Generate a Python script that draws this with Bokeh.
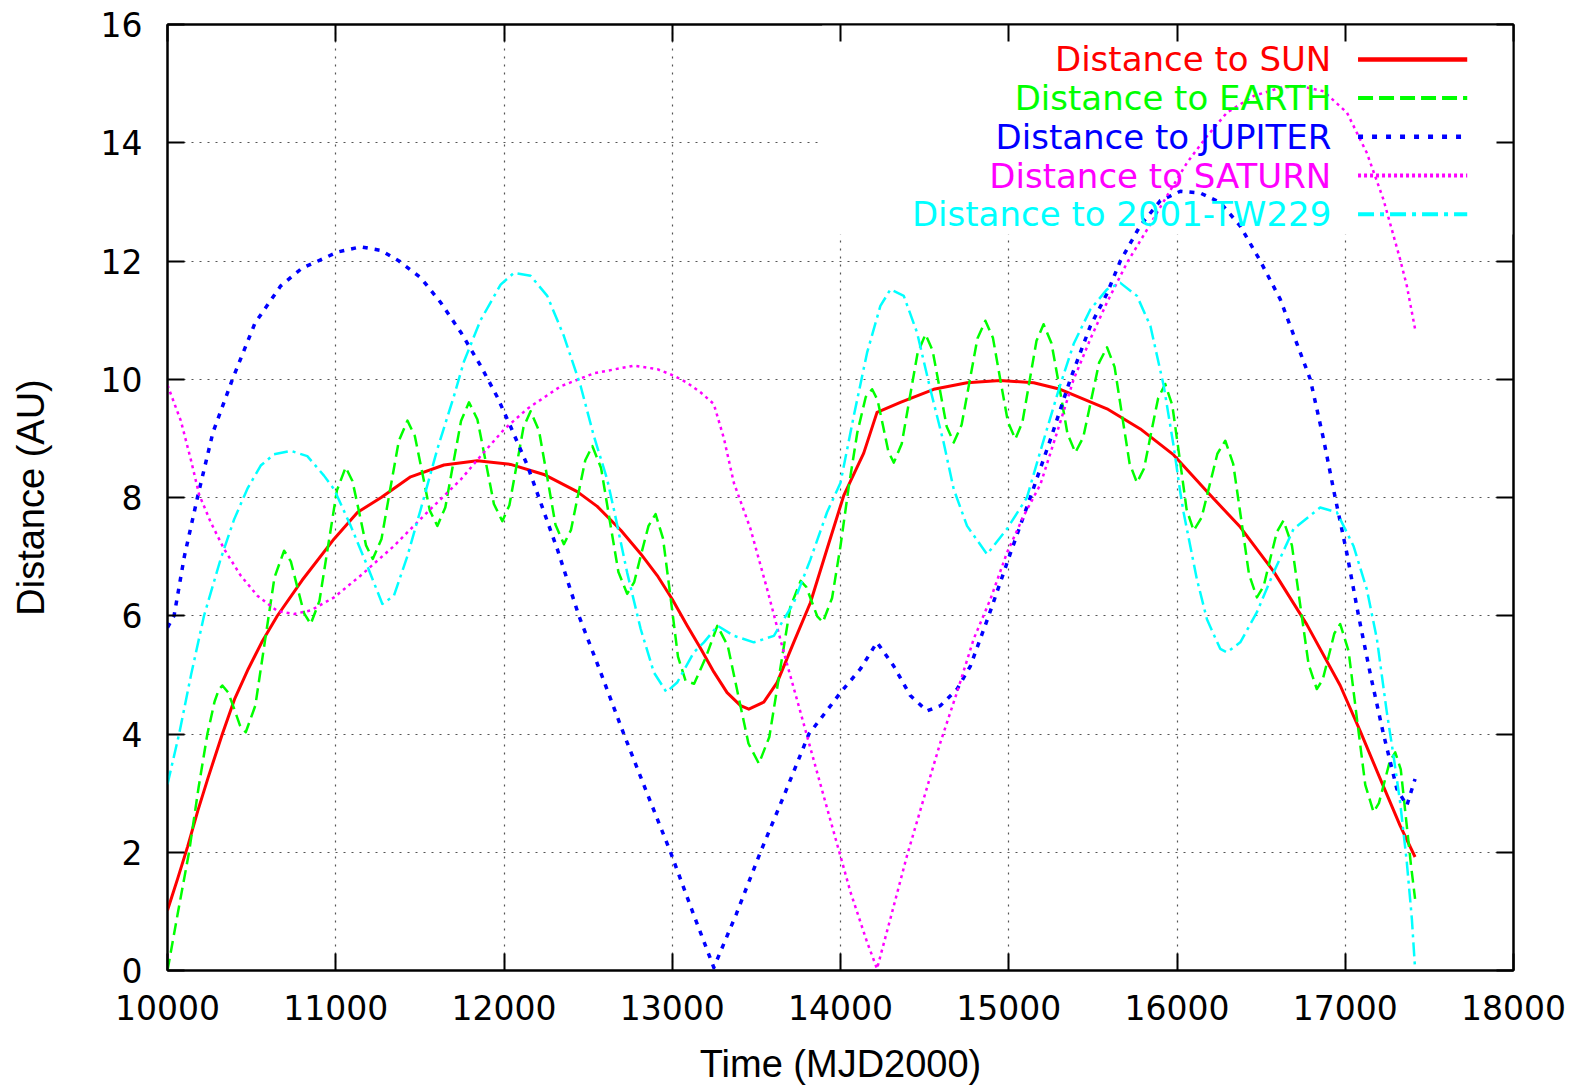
from bokeh.plotting import figure
from bokeh.models import Range1d, LinearAxis, FixedTicker, BoxAnnotation, ColumnDataSource, BasicTickFormatter
from bokeh.core.properties import value
from bokeh.embed import file_html
from bokeh.resources import INLINE

# ---------------- data ----------------
x_ticks = [10000, 11000, 12000, 13000, 14000, 15000, 16000, 17000, 18000]
y_ticks = [0, 2, 4, 6, 8, 10, 12, 14, 16]

sun_t = [10000, 10060, 10120, 10180, 10240, 10326, 10400, 10480, 10560, 10653, 10800, 10990, 11130,
         11270, 11445, 11643, 11841, 12039, 12237, 12435, 12554, 12693, 12812, 12911, 13000, 13089,
         13168, 13247, 13326, 13406, 13455, 13544, 13623, 13722, 13821, 13920, 14019, 14138, 14217,
         14356, 14554, 14752, 14950, 15148, 15306, 15584, 15782, 15980, 16178, 16376, 16574, 16772,
         16970, 17089, 17208, 17326, 17415]
sun_d = [1.02, 1.55, 2.1, 2.7, 3.25, 4.0, 4.6, 5.1, 5.55, 6.0, 6.6, 7.3, 7.75,
         8.0, 8.35, 8.55, 8.62, 8.56, 8.39, 8.1, 7.85, 7.45, 7.05, 6.68, 6.28, 5.83,
         5.45, 5.05, 4.7, 4.48, 4.42, 4.54, 4.87, 5.55, 6.22, 7.13, 8.03, 8.75, 9.44,
         9.61, 9.83, 9.94, 9.98, 9.94, 9.83, 9.5, 9.16, 8.72, 8.1, 7.5, 6.75, 5.85,
         4.82, 4.05, 3.24, 2.45, 1.92]

earth_t = [10000, 10060, 10128, 10185, 10237, 10280, 10305, 10326, 10361, 10396, 10430, 10465,
           10522, 10579, 10636, 10693, 10733, 10772, 10812, 10851, 10903, 10955, 11007, 11059,
           11099, 11140, 11180, 11220, 11272, 11323, 11375, 11426, 11470, 11515, 11559, 11604,
           11651, 11698, 11745, 11792, 11842, 11891, 11940, 11990, 12032, 12074, 12116, 12158,
           12208, 12257, 12306, 12356, 12398, 12440, 12483, 12525, 12577, 12628, 12680, 12732,
           12774, 12816, 12859, 12901, 12945, 12990, 13034, 13079, 13130, 13200, 13268, 13330,
           13391, 13453, 13515, 13577, 13639, 13701, 13763, 13796, 13829, 13862, 13895, 13950,
           14000, 14050, 14100, 14150, 14188, 14220, 14253, 14285, 14317, 14364, 14411, 14458,
           14505, 14547, 14589, 14631, 14673, 14720, 14767, 14814, 14861, 14906, 14950, 14995,
           15039, 15081, 15123, 15165, 15207, 15254, 15302, 15349, 15396, 15443, 15490, 15537,
           15584, 15629, 15673, 15718, 15762, 15804, 15846, 15888, 15930, 15972, 16015, 16057,
           16099, 16146, 16193, 16240, 16287, 16334, 16381, 16428, 16475, 16515, 16554, 16594,
           16633, 16683, 16732, 16782, 16831, 16866, 16901, 16935, 16970, 17020, 17069, 17119,
           17168, 17200, 17233, 17265, 17297, 17330, 17360, 17390, 17415]
earth_d = [0.0, 0.95, 2.0, 3.1, 4.0, 4.55, 4.75, 4.82, 4.7, 4.43, 4.15, 4.03,
           4.48, 5.57, 6.65, 7.1, 6.92, 6.48, 6.04, 5.86, 6.25, 7.19, 8.12, 8.51,
           8.28, 7.74, 7.19, 6.96, 7.3, 8.13, 8.96, 9.3, 9.04, 8.41, 7.78, 7.52,
           7.83, 8.57, 9.3, 9.61, 9.32, 8.61, 7.89, 7.6, 7.87, 8.53, 9.19, 9.46,
           9.13, 8.34, 7.54, 7.21, 7.45, 8.04, 8.63, 8.87, 8.5, 7.62, 6.74, 6.37,
           6.57, 7.05, 7.52, 7.72, 7.31, 6.31, 5.31, 4.9, 4.85, 5.3, 5.83, 5.49,
           4.67, 3.84, 3.5, 3.95, 5.05, 6.14, 6.59, 6.49, 6.24, 5.99, 5.89, 6.3,
           7.18, 8.2, 9.1, 9.7, 9.83, 9.65, 9.21, 8.77, 8.59, 8.91, 9.68, 10.44,
           10.76, 10.49, 9.85, 9.2, 8.93, 9.23, 9.96, 10.69, 10.99, 10.7, 9.99, 9.28,
           8.99, 9.27, 9.96, 10.65, 10.93, 10.61, 9.85, 9.08, 8.76, 9.02, 9.65, 10.28,
           10.54, 10.21, 9.4, 8.58, 8.25, 8.49, 9.09, 9.68, 9.92, 9.56, 8.68, 7.8,
           7.44, 7.66, 8.2, 8.74, 8.96, 8.57, 7.64, 6.7, 6.31, 6.5, 6.96, 7.42,
           7.61, 7.19, 6.19, 5.18, 4.76, 4.92, 5.31, 5.7, 5.86, 5.4, 4.27, 3.14,
           2.68, 2.83, 3.19, 3.54, 3.69, 3.4, 2.6, 1.8, 1.21]

jupiter_t = [10000, 10039, 10100, 10178, 10270, 10386, 10520, 10673, 10800, 10910, 11009, 11148, 11267,
             11376, 11504, 11623, 11742, 11861, 11960, 12039, 12138, 12207, 12320, 12445, 12580, 12712,
             12850, 12990, 13120, 13247, 13380, 13524, 13670, 13812, 13920, 14000, 14118, 14217, 14316,
             14415, 14514, 14594, 14693, 14772, 14881, 15009, 15128, 15250, 15366, 15485, 15584, 15663,
             15782, 15901, 16020, 16138, 16257, 16376, 16495, 16614, 16713, 16792, 16870, 16940, 17010,
             17079, 17150, 17227, 17307, 17366, 17415]
jupiter_d = [5.8, 6.0, 7.0, 8.0, 9.1, 10.0, 10.95, 11.58, 11.88, 12.02, 12.15, 12.24, 12.18,
             12.0, 11.72, 11.3, 10.8, 10.23, 9.7, 9.2, 8.55, 8.0, 7.1, 6.0, 5.0, 4.0,
             3.0, 2.0, 1.0, 0.05, 0.95, 2.0, 3.0, 4.0, 4.4, 4.7, 5.1, 5.55, 5.15,
             4.65, 4.39, 4.48, 4.76, 5.15, 6.0, 7.05, 8.0, 9.0, 10.0, 10.9, 11.45, 12.0,
             12.6, 13.02, 13.18, 13.15, 12.99, 12.59, 12.0, 11.35, 10.6, 10.0, 9.0, 8.0, 7.05,
             6.0, 5.0, 4.0, 3.07, 2.79, 3.24]

saturn_t = [10000, 10079, 10138, 10188, 10257, 10336, 10435, 10534, 10653, 10752, 10851, 10990, 11148,
            11346, 11544, 11742, 11861, 12000, 12138, 12336, 12534, 12772, 12911, 13010, 13089, 13168,
            13247, 13307, 13366, 13465, 13564, 13663, 13762, 13861, 13960, 14059, 14158, 14217, 14296,
            14395, 14494, 14594, 14693, 14792, 14891, 14990, 15089, 15188, 15287, 15386, 15485, 15584,
            15703, 15822, 15940, 16059, 16178, 16297, 16455, 16614, 16733, 16871, 17010, 17128, 17227,
            17326, 17366, 17415]
saturn_d = [9.9, 9.3, 8.65, 8.05, 7.58, 7.13, 6.68, 6.34, 6.08, 6.03, 6.09, 6.31, 6.68,
            7.18, 7.75, 8.3, 8.7, 9.15, 9.5, 9.88, 10.1, 10.23, 10.17, 10.06, 9.94, 9.78,
            9.58, 9.0, 8.25, 7.47, 6.45, 5.38, 4.37, 3.35, 2.34, 1.33, 0.48, 0.03, 0.87,
            1.94, 2.9, 3.86, 4.71, 5.61, 6.28, 7.07, 7.69, 8.22, 9.1, 10.0, 10.68, 11.3,
            11.97, 12.53, 13.1, 13.66, 14.11, 14.51, 14.79, 14.93, 14.96, 14.87, 14.51, 13.83, 13.04,
            12.03, 11.58, 10.85]

tw229_t = [10000, 10069, 10140, 10217, 10316, 10396, 10475, 10554, 10633, 10732, 10831, 10930, 10990,
           11089, 11188, 11277, 11346, 11426, 11505, 11604, 11703, 11762, 11861, 11980, 12059, 12158,
           12257, 12356, 12455, 12534, 12613, 12653, 12732, 12812, 12891, 12965, 13029, 13128, 13188,
           13270, 13367, 13485, 13604, 13722, 13821, 13920, 14000, 14079, 14158, 14237, 14297, 14376,
           14455, 14534, 14613, 14673, 14752, 14871, 14990, 15108, 15200, 15300, 15386, 15485, 15584,
           15663, 15762, 15842, 15921, 15980, 16020, 16039, 16118, 16178, 16257, 16297, 16376, 16475,
           16574, 16693, 16851, 16950, 17049, 17128, 17188, 17247, 17287, 17326, 17366, 17396, 17415]
tw229_d = [3.15, 4.0, 5.0, 6.0, 6.96, 7.63, 8.15, 8.54, 8.73, 8.79, 8.7, 8.37, 8.14,
           7.52, 6.84, 6.2, 6.34, 7.01, 7.8, 8.82, 9.72, 10.3, 11.0, 11.6, 11.8, 11.75,
           11.41, 10.73, 9.89, 9.04, 8.31, 7.8, 6.73, 5.78, 5.04, 4.71, 4.87, 5.38, 5.55,
           5.83, 5.66, 5.55, 5.66, 6.22, 6.95, 7.75, 8.25, 9.38, 10.45, 11.24, 11.52, 11.41,
           10.79, 9.83, 8.93, 8.14, 7.52, 7.04, 7.47, 8.0, 8.9, 9.85, 10.6, 11.18, 11.52,
           11.63, 11.41, 10.9, 9.89, 8.87, 8.08, 7.75, 6.62, 5.94, 5.44, 5.38, 5.55, 6.06,
           6.73, 7.47, 7.83, 7.75, 7.18, 6.45, 5.61, 4.37, 3.63, 2.85, 1.83, 0.87, 0.03]

names = ["Distance to SUN", "Distance to EARTH", "Distance to JUPITER",
         "Distance to SATURN", "Distance to 2001-TW229"]
colors = ["#ff0000", "#00ff00", "#0000ff", "#ff00ff", "#00ffff"]

# ---------------- styles / layout ----------------
line_dash = ["solid", "12 6", "5 7", "3 4", "14 5 3 5"]
line_w = [3, 2.5, 3.5, 2.5, 2.5]
key_dash = ["solid", "15 6", "5 9", "3 3", "16 6 4 6"]
key_w = [4.5, 4, 4.5, 4, 4]
KEY = dict(text_x=16917, x0=17076, x1=17725, y_top=15.41, dy=0.655,
           blank_left=13891, blank_bottom=12.45)

p = figure(width=1581, height=1087, output_backend="svg", toolbar_location=None,
           x_range=Range1d(10000, 18000), y_range=Range1d(0, 16),
           min_border_left=167, min_border_right=68, min_border_top=24, min_border_bottom=115,
           background_fill_color="white", border_fill_color="white")

p.outline_line_color = "#000000"
p.outline_line_width = 2

for ax in (p.xaxis[0], p.yaxis[0]):
    ax.axis_line_width = 2
    ax.axis_line_color = "#000000"
    ax.major_tick_in = 17
    ax.major_tick_out = 0
    ax.major_tick_line_width = 2
    ax.minor_tick_line_color = None
    ax.major_label_text_font = "DejaVu Sans"
    ax.major_label_text_font_size = "33px"
    ax.major_label_text_color = "#000000"
    ax.axis_label_text_font = "Liberation Sans"
    ax.axis_label_text_font_size = "38px"
    ax.axis_label_text_font_style = "normal"
    ax.axis_label_text_color = "#000000"
    ax.formatter = BasicTickFormatter(use_scientific=False)

p.xaxis[0].ticker = FixedTicker(ticks=x_ticks)
p.yaxis[0].ticker = FixedTicker(ticks=y_ticks)
p.xaxis[0].axis_label = "Time (MJD2000)"
p.yaxis[0].axis_label = "Distance (AU)"
p.xaxis[0].major_label_standoff = 24
p.xaxis[0].axis_label_standoff = 20
p.yaxis[0].major_label_standoff = 25
p.yaxis[0].axis_label_standoff = 46

# mirrored tick axes (gnuplot style)
for loc, tk in (("above", x_ticks), ("right", y_ticks)):
    ax = LinearAxis(ticker=FixedTicker(ticks=tk), major_tick_in=17, major_tick_out=0,
                    major_tick_line_width=2, minor_tick_line_color=None,
                    axis_line_width=2, major_label_text_color=None,
                    major_label_text_font_size="1px", major_label_standoff=0)
    p.add_layout(ax, loc)

for g, tk in ((p.xgrid[0], x_ticks), (p.ygrid[0], y_ticks)):
    g.ticker = FixedTicker(ticks=tk)
    g.grid_line_color = "#555555"
    g.grid_line_width = 1.2
    g.grid_line_dash = "2 6"

# gnuplot blanks the grid behind the key
p.add_layout(BoxAnnotation(left=KEY["blank_left"], right=18000, bottom=KEY["blank_bottom"], top=16,
                           fill_color="white", fill_alpha=1.0, line_color=None, level="underlay"))

series = [(sun_t, sun_d), (earth_t, earth_d), (jupiter_t, jupiter_d),
          (saturn_t, saturn_d), (tw229_t, tw229_d)]
for i, (t, d) in enumerate(series):
    p.line(t, d, line_color=colors[i], line_width=line_w[i], line_dash=line_dash[i],
           line_join="round")

# key (text on the left, sample on the right, as gnuplot draws it)
key_y = [KEY["y_top"] - i * KEY["dy"] for i in range(len(names))]
src = ColumnDataSource(dict(x=[KEY["text_x"]] * len(names), y=key_y, text=names, c=colors))
p.text(x="x", y="y", text="text", text_color="c", source=src, text_align="right",
       text_baseline="middle", text_font=value("DejaVu Sans"), text_font_size="34px")
for i in range(len(names)):
    p.line([KEY["x0"], KEY["x1"]], [key_y[i], key_y[i]], line_color=colors[i],
           line_width=key_w[i], line_dash=key_dash[i])

open("out.html", "w").write(file_html(p, INLINE))
